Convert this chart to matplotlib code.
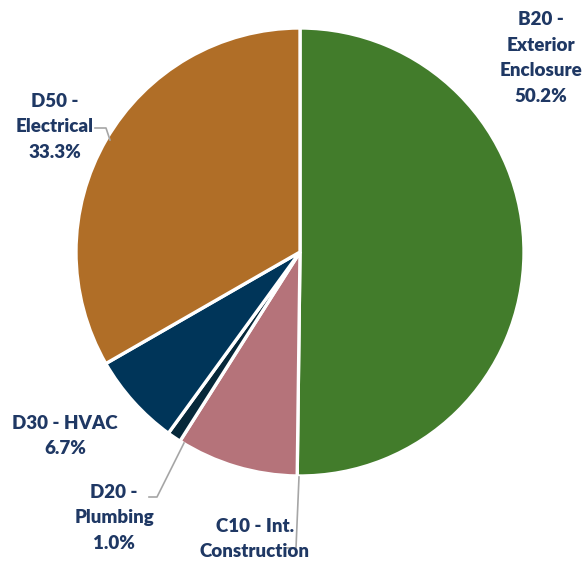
import matplotlib
matplotlib.use("Agg")
import matplotlib.pyplot as plt

# Cost share by building system
categories = ["B20 - Exterior Enclosure", "C10 - Int. Construction", "D20 - Plumbing",
              "D30 - HVAC", "D50 - Electrical"]
shares = [50.2, 8.8, 1.0, 6.7, 33.3]
label_lines = [["B20 -", "Exterior", "Enclosure", "50.2%"],
               ["C10 - Int.", "Construction"],
               ["D20 -", "Plumbing", "1.0%"],
               ["D30 - HVAC", "6.7%"],
               ["D50 -", "Electrical", "33.3%"]]
colors = ["#427C2B", "#B5737A", "#06283A", "#003559", "#B06E27"]

W, H = 586, 562
fig = plt.figure(figsize=(W / 100, H / 100), dpi=100)
ax = fig.add_axes([0, 0, 1, 1])

cx, cy, r = 300, H - 252, 224
ax.pie(shares, colors=colors, startangle=90, counterclock=False,
       center=(cx, cy), radius=r, frame=True,
       wedgeprops=dict(edgecolor="white", linewidth=2.4))
ax.set_xlim(0, W)
ax.set_ylim(0, H)
ax.set_aspect("equal")
ax.axis("off")

txt = dict(color="#1F3864", fontsize=13.5, fontweight="heavy", family="Lato",
           ha="center", va="center", linespacing=1.6)

def label(i, x, y):
    ax.text(x, H - y, "\n".join(label_lines[i]), **txt)

label(0, 541, 58)
label(4, 55, 127)
label(3, 65, 436)
label(2, 114, 518)
label(1, 255, 539)

lc = dict(color="#A6A6A6", lw=1.2)

def leader(pts):
    ax.plot([p[0] for p in pts], [H - p[1] for p in pts], **lc)

leader([(95, 128), (106, 128), (110, 140)])
leader([(149, 497), (157, 497), (184, 443)])
leader([(299, 477), (296, 548), (287, 548)])

fig.savefig("out.png", dpi=100)
